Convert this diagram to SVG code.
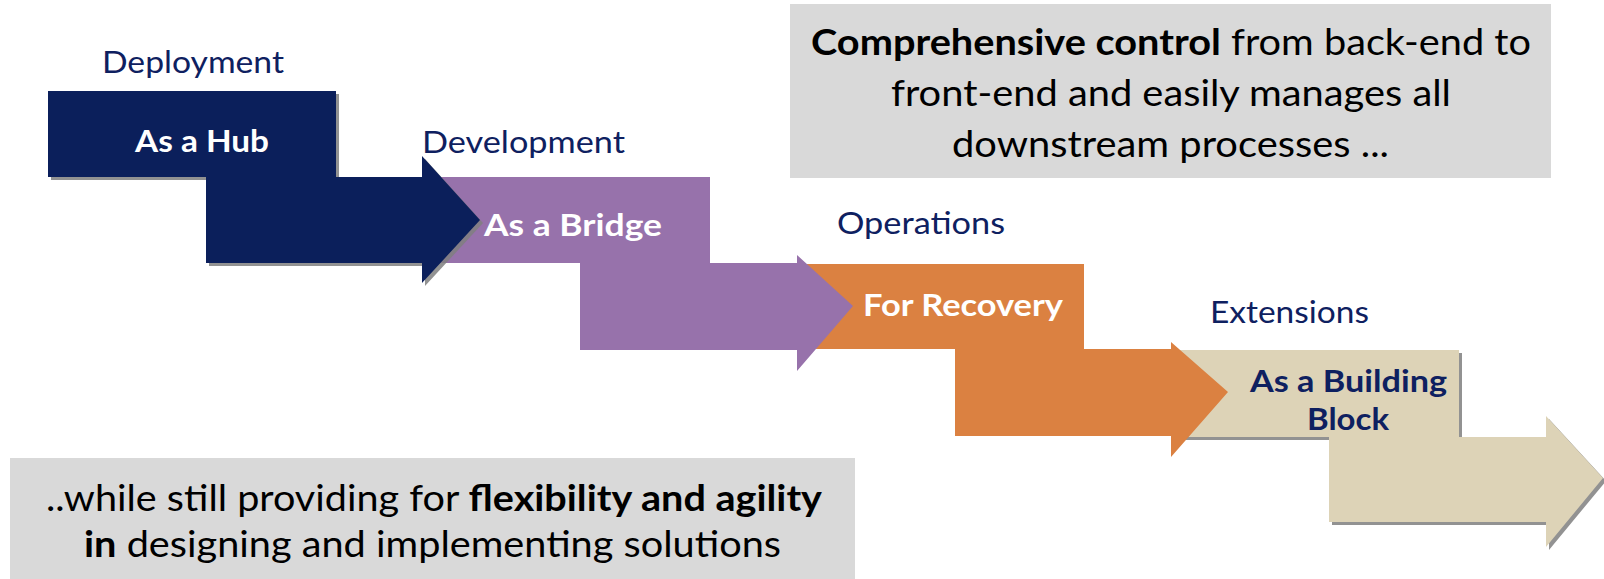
<svg xmlns="http://www.w3.org/2000/svg" width="1604" height="579" viewBox="0 0 1604 579">
<defs>
<style>
.lbl{font-family:Lato,"Open Sans",sans-serif;font-size:31px;fill:#0E2060}
.node{font-family:Lato,"Open Sans",sans-serif;font-size:31px;font-weight:bold}
.w{fill:#FFFFFF}
.n{fill:#0E2060}
.box{fill:#D9D9D9}
.bt{font-family:Lato,"Open Sans",sans-serif;font-size:37px;fill:#000000}
.shadow{fill:#7F7F7F;opacity:0.85}
</style>
</defs>
<rect width="1604" height="579" fill="#FFFFFF"/>
<g id="connectors"/>

<g id="note-top">
<rect class="box" x="790" y="4" width="761" height="174"/>
<text class="bt" x="811" y="55" textLength="720" lengthAdjust="spacingAndGlyphs"><tspan font-weight="bold">Comprehensive control</tspan> from back-end to</text>
<text class="bt" x="891" y="106" textLength="560" lengthAdjust="spacingAndGlyphs">front-end and easily manages all</text>
<text class="bt" x="952" y="157" textLength="437" lengthAdjust="spacingAndGlyphs">downstream processes ...</text>
</g>

<g id="note-bottom">
<rect class="box" x="10" y="458" width="845" height="125"/>
<text class="bt" x="46" y="511" textLength="776" lengthAdjust="spacingAndGlyphs">..while still providing for <tspan font-weight="bold">flexibility and agility</tspan></text>
<text class="bt" x="84" y="557" textLength="697" lengthAdjust="spacingAndGlyphs"><tspan font-weight="bold">in</tspan> designing and implementing solutions</text>
</g>

<g id="node-extensions">
<polygon class="shadow" transform="translate(3,3)" points="1180,350 1459,350 1459,437 1546,437 1546,416 1603,478 1546,547 1546,522 1329,522 1329,437 1180,437"/>
<polygon fill="#DDD3B7" points="1180,350 1459,350 1459,437 1546,437 1546,416 1603,478 1546,547 1546,522 1329,522 1329,437 1180,437"/>
<text class="lbl" x="1210" y="323" textLength="159" lengthAdjust="spacingAndGlyphs">Extensions</text>
<text class="node n" x="1250" y="392" textLength="197" lengthAdjust="spacingAndGlyphs">As a Building</text>
<text class="node n" x="1307" y="430" textLength="82" lengthAdjust="spacingAndGlyphs">Block</text>
</g>

<g id="node-operations">
<polygon fill="#DB8141" points="805,264 1084,264 1084,349 1171,349 1171,342 1228,392 1171,457 1171,436 955,436 955,349 805,349"/>
<text class="lbl" x="837" y="234" textLength="168" lengthAdjust="spacingAndGlyphs">Operations</text>
<text class="node w" x="863" y="316" textLength="200" lengthAdjust="spacingAndGlyphs">For Recovery</text>
</g>

<g id="node-development">
<polygon fill="#9772AB" points="430,177 710,177 710,263 797,263 797,255 853,306 797,371 797,350 580,350 580,263 430,263"/>
<text class="lbl" x="422" y="153" textLength="203" lengthAdjust="spacingAndGlyphs">Development</text>
<text class="node w" x="484" y="236" textLength="178" lengthAdjust="spacingAndGlyphs">As  a Bridge</text>
</g>

<g id="node-deployment">
<polygon class="shadow" transform="translate(3,3)" points="48,91 336,91 336,177 422,177 422,156 480,220 422,283 422,263 206,263 206,177 48,177"/>
<polygon fill="#0B1F5B" points="48,91 336,91 336,177 422,177 422,156 480,220 422,283 422,263 206,263 206,177 48,177"/>
<text class="lbl" x="102" y="73" textLength="182" lengthAdjust="spacingAndGlyphs">Deployment</text>
<text class="node w" x="135" y="152" textLength="134" lengthAdjust="spacingAndGlyphs">As a Hub</text>
</g>
</svg>
